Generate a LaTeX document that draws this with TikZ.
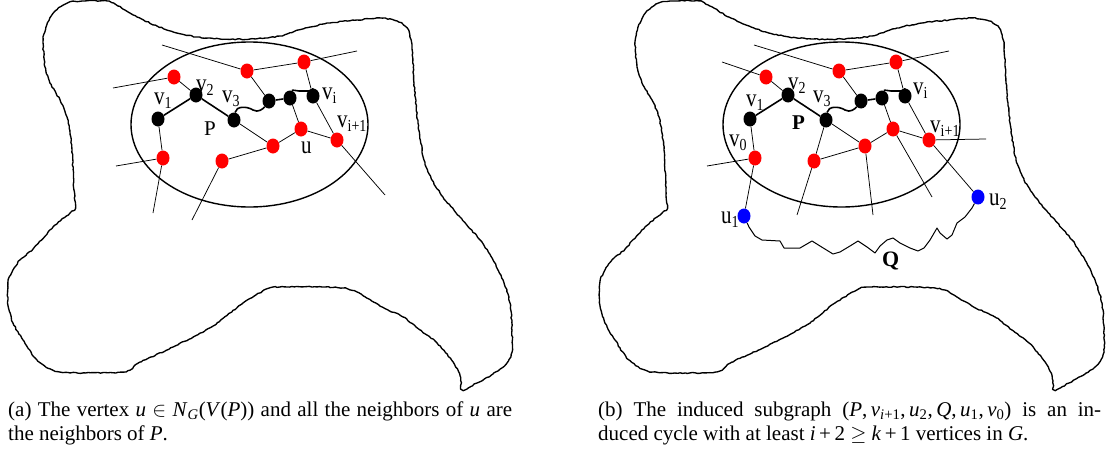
\documentclass[tikz,border=0pt]{standalone}
\usepackage{graphicx}
\usepackage{fontspec}
\setmainfont{Liberation Serif}
\usetikzlibrary{shapes.geometric,decorations.pathmorphing}
\newcommand{\vl}[2]{\scalebox{1}[1.2]{#1\raisebox{-3.5pt}{\fontsize{14}{14}\selectfont #2}}}
\tikzset{
  dotR/.style={shape=ellipse, minimum width=13pt, minimum height=15pt, inner sep=0pt, fill=red, draw=none},
  dotK/.style={shape=ellipse, minimum width=13pt, minimum height=15pt, inner sep=0pt, fill=black, draw=none},
  dotB/.style={shape=ellipse, minimum width=13pt, minimum height=15pt, inner sep=0pt, fill=blue, draw=none},
  thinE/.style={line width=0.75pt},
  thickE/.style={line width=1.6pt},
  blob/.style={line width=1.35pt, line join=round, decorate, decoration={random steps, segment length=2.5pt, amplitude=0.55pt}},
  ell/.style={draw, shape=ellipse, line width=1.4pt, minimum width=237pt, minimum height=165pt, inner sep=0pt},
  lbl/.style={inner sep=0pt, anchor=base west, font=\fontsize{21}{21}\selectfont},
  captext/.style={inner sep=0pt, anchor=base west, font=\fontsize{21}{24.5}\selectfont},
}
\begin{document}
\begin{tikzpicture}[x=1pt,y=-1pt]
\useasboundingbox (0,0) rectangle (1110,455);

% ---------- outer blobs ----------
\foreach \dx in {0,592}{
\begin{scope}[xshift=\dx pt]
\draw[blob] plot[smooth cycle, tension=0.45] coordinates {
(43,42) (46,27) (52,15) (60,7) (70,2) (85,1) (107,1) (118,6) (137,17) (157,26) (177,33) (197,37) (220,39) (250,39) (280,36) (305,28) (330,23) (357,20) (380,18) (397,21) (407,28) (412,45) (414,83) (418,123) (424,160) (432,180) (443,197) (460,217) (480,240) (493,260) (503,280) (510,303) (512,330) (512,352) (506,364) (493,374) (477,383) (463,390) (460,376) (453,362) (437,343) (420,330) (403,317) (380,306) (357,292) (343,288) (322,287) (280,287) (267,289) (243,303) (213,326) (173,347) (140,362) (123,372) (60,372) (37,360) (23,340) (13,323) (8,305) (8,282) (13,270) (20,260) (33,249) (53,227) (70,213) (75,208) (74,190) (72,150) (70,133) (67,117) (60,100) (50,83) (45,67)};
\end{scope}}

% ---------- panel (a) ----------
\node[ell] (a_ell) at (249.5,124.5) {};
\node[dotR] (a_rtl) at (174,77) {};
\node[dotK] (a_v2)  at (196,95) {};
\node[dotK] (a_v1)  at (158,119) {};
\node[dotR] (a_rlb) at (163,158) {};
\node[dotK] (a_v3)  at (234,120) {};
\node[dotR] (a_rtm) at (247,71) {};
\node[dotR] (a_rtr) at (304,62) {};
\node[dotK] (a_ba)  at (269,101) {};
\node[dotK] (a_bb)  at (290,98) {};
\node[dotK] (a_vi)  at (313,96) {};
\node[dotR] (a_u)   at (301,129) {};
\node[dotR] (a_rc)  at (273,146) {};
\node[dotR] (a_rbm) at (222,161) {};
\node[dotR] (a_vip) at (337,140) {};
\coordinate (a_e1) at (162,45);
\coordinate (a_e2) at (357,51);
\coordinate (a_e3) at (113,88);
\coordinate (a_e4) at (116,166);
\coordinate (a_e5) at (153,213);
\coordinate (a_e6) at (192,220);
\coordinate (a_e7) at (385,195);

\draw[thinE] (a_e1) -- (a_rtm) -- (a_rtr) -- (a_e2);
\draw[thinE] (a_e3) -- (a_rtl) -- (a_v2);
\draw[thinE] (a_v1) -- (a_rlb);
\draw[thinE] (a_e4) -- (a_rlb) -- (a_e5);
\draw[thinE] (a_rtm) -- (a_ba);
\draw[thinE] (a_rtr) -- (a_vi) -- (a_vip) -- (a_e7);
\draw[thinE] (a_bb) -- (a_u);
\draw[thinE] (a_v3) -- (a_rc) -- (a_u) -- (a_vip);
\draw[thinE] (a_rc) -- (a_rbm) -- (a_e6);
\draw[thickE] (a_v1) -- (a_v2) -- (a_v3);
\draw[thickE] (a_ba) -- (a_bb);
\draw[thickE] (a_v3) .. controls (236,106) and (247,106) .. (253,110) .. controls (258,113) and (263,109) .. (a_ba);
\draw[thickE] (a_bb) .. controls (292,90) .. (299,91) -- (308,91) .. controls (313,91) .. (a_vi);

\node[lbl] (a_l1) at (154,104) {\vl{v}{1}};
\node[lbl] (a_l2) at (196,91) {\vl{v}{2}};
\node[lbl] (a_l3) at (222,102) {\vl{v}{3}};
\node[lbl] (a_lP) at (204,135) {P};
\node[lbl] (a_li) at (322,99) {\vl{v}{i}};
\node[lbl] (a_lip) at (337,127) {\vl{v}{i+1}};
\node[lbl] (a_lu) at (301,153) {\vl{u}{}};

% ---------- panel (b) ----------
\node[ell] (b_ell) at (841.5,124.5) {};
\node[dotR] (b_rtl) at (766,77) {};
\node[dotK] (b_v2)  at (788,95) {};
\node[dotK] (b_v1)  at (750,119) {};
\node[dotR] (b_v0)  at (755,158) {};
\node[dotK] (b_v3)  at (826,120) {};
\node[dotR] (b_rtm) at (839,71) {};
\node[dotR] (b_rtr) at (896,62) {};
\node[dotK] (b_ba)  at (861,101) {};
\node[dotK] (b_bb)  at (882,98) {};
\node[dotK] (b_vi)  at (905,96) {};
\node[dotR] (b_u)   at (893,129) {};
\node[dotR] (b_rc)  at (865,146) {};
\node[dotR] (b_rbm) at (814,161) {};
\node[dotR] (b_vip) at (929,140) {};
\node[dotB] (b_u1)  at (744,216) {};
\node[dotB] (b_u2)  at (978,197) {};
\coordinate (b_f1) at (754,45);
\coordinate (b_f2) at (949,51);
\coordinate (b_f3) at (722,62);
\coordinate (b_f4) at (707,166);
\coordinate (b_f5) at (797,215);
\coordinate (b_f6) at (873,215);
\coordinate (b_f7) at (932,197);
\coordinate (b_f8) at (986,139);

\draw[thinE] (b_f1) -- (b_rtm) -- (b_rtr) -- (b_f2);
\draw[thinE] (b_f3) -- (b_rtl) -- (b_v2);
\draw[thinE] (b_v1) -- (b_v0) -- (b_u1);
\draw[thinE] (b_f4) -- (b_v0);
\draw[thinE] (b_rtm) -- (b_ba);
\draw[thinE] (b_rtr) -- (b_vi) -- (b_vip) -- (b_u2);
\draw[thinE] (b_vip) -- (b_f8);
\draw[thinE] (b_bb) -- (b_u) -- (b_f7);
\draw[thinE] (b_v3) -- (b_rc) -- (b_u) -- (b_vip);
\draw[thinE] (b_rc) -- (b_rbm);
\draw[thinE] (b_v3) -- (b_rbm) -- (b_f5);
\draw[thinE] (b_rc) -- (b_f6);
\draw[thickE] (b_v1) -- (b_v2) -- (b_v3);
\draw[thickE] (b_ba) -- (b_bb);
\draw[thickE] (b_v3) .. controls (828,106) and (839,106) .. (845,110) .. controls (850,113) and (855,109) .. (b_ba);
\draw[thickE] (b_bb) .. controls (884,90) .. (891,91) -- (900,91) .. controls (905,91) .. (b_vi);
\draw[line width=1pt, line join=round] (b_u1) -- (749,227) -- (755,236) -- (762,240) -- (780,241) -- (784,248) -- (800,248) -- (812,241) -- (820,246) -- (833,254) -- (840,252) -- (850,246) -- (858,241) -- (867,247) -- (875,253) -- (880,246) -- (887,240) -- (893,238) -- (900,243) -- (910,248) -- (918,251) -- (924,248) -- (930,240) -- (937,228) -- (940,233) -- (947,239) -- (952,235) -- (957,223) -- (965,217) -- (972,208) -- (b_u2);

\node[lbl] (b_l1) at (746,106) {\vl{v}{1}};
\node[lbl] (b_l2) at (788,89) {\vl{v}{2}};
\node[lbl] (b_l3) at (813,102) {\vl{v}{3}};
\node[lbl] (b_l0) at (729,146) {\vl{v}{0}};
\node[lbl, font=\fontsize{21}{21}\selectfont\bfseries] (b_lP) at (792,129) {P};
\node[lbl] (b_li) at (913,94) {\vl{v}{i}};
\node[lbl] (b_lip) at (930,132) {\vl{v}{i+1}};
\node[lbl] (b_lu1) at (721,223) {\vl{u}{1}};
\node[lbl] (b_lu2) at (989,205) {\vl{u}{2}};
\node[lbl, font=\fontsize{22}{22}\selectfont\bfseries] (b_lQ) at (882,266) {Q};

% ---------- captions ----------
\node[captext] (capa) at (8,416) {\parbox[t]{504pt}{(a)\ The vertex \textit{u}~$\in$~\textit{N}\textsubscript{\textit{G}}(\textit{V}(\textit{P})) and all the neighbors of \textit{u} are\linebreak the neighbors of \textit{P}.}};
\node[captext] (capb) at (598,416) {\parbox[t]{503pt}{(b)\ The induced subgraph (\textit{P},\,\textit{v}\textsubscript{\textit{i}+1},\,\textit{u}\textsubscript{2},\,\textit{Q},\,\textit{u}\textsubscript{1},\,\textit{v}\textsubscript{0}) is an in-\linebreak duced cycle with at least \textit{i}\,+\,2~$\geq$~\textit{k}\,+\,1 vertices in \textit{G}.}};
\end{tikzpicture}
\end{document}
